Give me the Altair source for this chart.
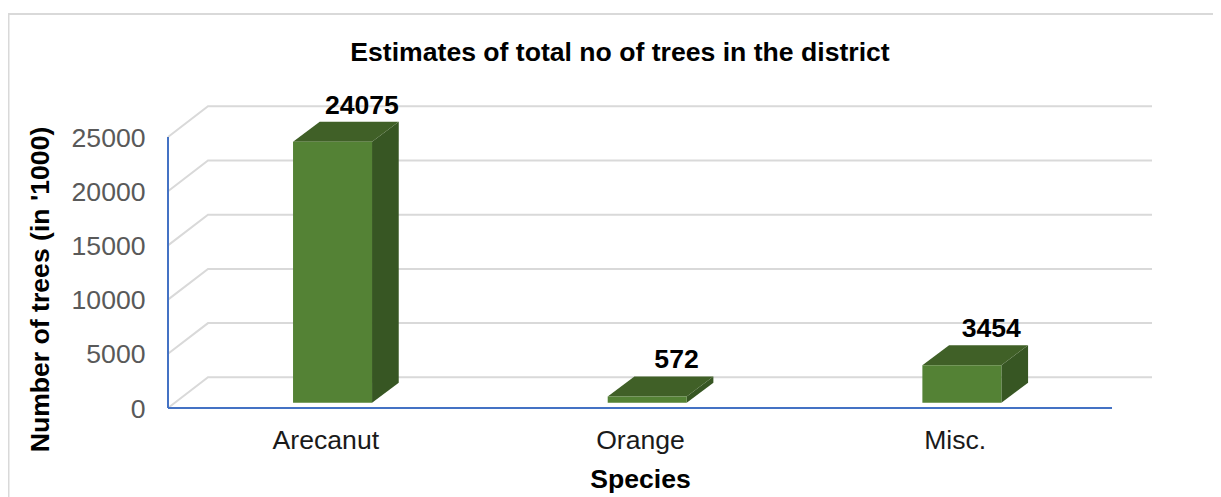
import altair as alt
import pandas as pd

species = ["Arecanut", "Orange", "Misc."]
trees = [24075, 572, 3454]
ticks = [0, 5000, 10000, 15000, 20000, 25000]

FONT = "Liberation Sans"
FS = 26.6
# layout of the pseudo-3D drawing, in pixels
PLOT_W, PLOT_H = 984, 302
CAT_W = 314.67          # width of a category on the floor
PX_PER_UNIT = 0.01084   # vertical pixels per tree unit
WALL_DX, WALL_DY = 40, 30.7
BAR_W, BAR_SHIFT, BAR_LIFT = 79, 7.2, 5.3
BAR_DX, BAR_DY = 26.7, 20
LABEL_DX, LABEL_DY = 16, 16

ux = lambda px: px / CAT_W
uy = lambda px: px / PX_PER_UNIT

x_dom = [-0.5, -0.5 + ux(PLOT_W)]
y_dom = [0, uy(PLOT_H)]
x_scale = alt.Scale(domain=x_dom, nice=False, zero=False)
y_scale = alt.Scale(domain=y_dom, nice=False, zero=False)

grid_rows, front_rows, side_rows, top_rows, label_rows = [], [], [], [], []
for t in ticks:
    grid_rows += [
        {"t": t, "x": x_dom[0], "y": t},
        {"t": t, "x": x_dom[0] + ux(WALL_DX), "y": t + uy(WALL_DY)},
        {"t": t, "x": x_dom[1], "y": t + uy(WALL_DY)},
    ]
for i, (s, v) in enumerate(zip(species, trees)):
    xl = i + ux(BAR_SHIFT - BAR_W / 2)
    xr = i + ux(BAR_SHIFT + BAR_W / 2)
    b = uy(BAR_LIFT)
    d = uy(BAR_DY)
    dx = ux(BAR_DX)
    front_rows.append({"s": s, "x": xl, "x2": xr, "y": b, "y2": b + v})
    side_rows += [
        {"s": s, "x": xr, "y": b, "y2": b + v},
        {"s": s, "x": xr + dx, "y": b + d, "y2": b + v + d},
    ]
    top_rows += [
        {"s": s, "x": xl, "y": b + v, "y2": b + v},
        {"s": s, "x": xl + dx, "y": b + v, "y2": b + v + d},
        {"s": s, "x": xr, "y": b + v, "y2": b + v + d},
        {"s": s, "x": xr + dx, "y": b + v + d, "y2": b + v + d},
    ]
    label_rows.append({
        "x": (xl + xr + dx) / 2 + ux(LABEL_DX),
        "y": b + v + d + uy(LABEL_DY),
        "label": str(v),
    })

X = alt.X("x:Q", scale=x_scale, axis=alt.Axis(
    values=[0, 1, 2],
    labelExpr="['Arecanut','Orange','Misc.'][datum.value]",
    grid=False, domain=False, ticks=False,
    labelFont=FONT, labelFontSize=FS, labelColor="#1a1a1a", labelPadding=19,
    title="Species", titleFont=FONT, titleFontSize=FS, titleFontWeight="bold",
    titleColor="#000000", titleX=472, titleY=71, titleBaseline="middle", titleAlign="center",
))
Y = alt.Y("y:Q", scale=y_scale, stack=None, axis=alt.Axis(
    values=ticks, format="d", grid=False, domain=False, ticks=False,
    labelFont=FONT, labelFontSize=FS, labelColor="#595959", labelPadding=23, labelOffset=1,
    title="Number of trees (in '1000)", titleFont=FONT, titleFontSize=FS, titleFontWeight="bold",
    titleColor="#000000", titleX=-128, titleY=183, titleAngle=-90,
    titleBaseline="middle", titleAlign="center",
))

grid = alt.Chart(pd.DataFrame(grid_rows)).mark_line(color="#d9d9d9", strokeWidth=2).encode(
    x=X, y=Y, detail="t:N"
)
base_axes = pd.DataFrame({
    "x": [x_dom[0], x_dom[0]], "x2": [2.5, x_dom[0]],
    "y": [0, 0], "y2": [0, 25000],
})
floor = alt.Chart(base_axes).mark_rule(color="#4472c4", strokeWidth=2).encode(
    x=X, x2="x2:Q", y=Y, y2="y2:Q",
)
front = alt.Chart(pd.DataFrame(front_rows)).mark_rect(color="#548235").encode(
    x=X, x2="x2:Q", y=Y, y2="y2:Q",
)
side = alt.Chart(pd.DataFrame(side_rows)).mark_area(color="#375623", interpolate="linear").encode(
    x=X, y=Y, y2="y2:Q", detail="s:N",
)
top = alt.Chart(pd.DataFrame(top_rows)).mark_area(color="#406027", interpolate="linear").encode(
    x=X, y=Y, y2="y2:Q", detail="s:N",
)
labels = alt.Chart(pd.DataFrame(label_rows)).mark_text(
    font=FONT, fontSize=FS, fontWeight="bold", color="#000000", baseline="middle", align="center"
).encode(
    x=X, y=Y, text="label:N",
)

frame_src = pd.DataFrame({"f": [1]})
frame_top = alt.Chart(frame_src).mark_rule(color="#d9d9d9", strokeWidth=2).encode(
    x=alt.value(-160), x2=alt.value(1060), y=alt.value(-92)
)
frame_left = alt.Chart(frame_src).mark_rule(color="#d9d9d9", strokeWidth=2).encode(
    x=alt.value(-159.5), y=alt.value(-92), y2=alt.value(400)
)

chart = alt.layer(
    frame_top, frame_left, grid, floor, side, top, front, labels
).properties(
    width=PLOT_W, height=PLOT_H,
    autosize=alt.AutoSizeParams(type="none"),
    padding={"left": 160, "top": 98, "right": 61, "bottom": 89},
    title=alt.TitleParams(
        "Estimates of total no of trees in the district",
        font=FONT, fontSize=FS, fontWeight="bold", color="#000000",
        anchor="middle", frame="group", dx=-40, offset=0, dy=54,
    ),
).configure_view(stroke=None)

chart.save("out.html", embed_options={"renderer": "svg", "actions": False})
